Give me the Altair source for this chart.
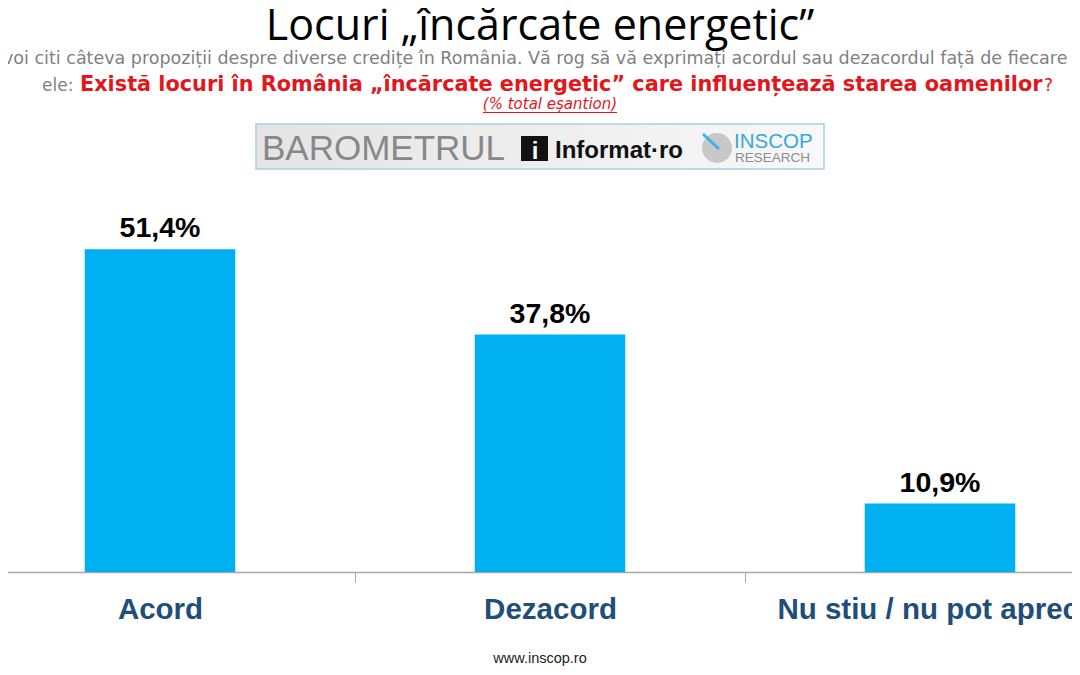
import altair as alt
import pandas as pd

# ---------------- data ----------------
categories = ["Acord", "Dezacord", "Nu stiu / nu pot aprecia"]
values = [51.4, 37.8, 10.9]
value_labels = ["51,4%", "37,8%", "10,9%"]

title_text = "Locuri „încărcate energetic”"
question_intro = ("voi citi câteva propoziții despre diverse credițe în România. "
                  "Vă rog să vă exprimați acordul sau dezacordul față de fiecare dintre")
question_lead = "ele:"
question_text = "Există locuri în România „încărcate energetic” care influențează starea oamenilor"
question_mark = "?"
sample_note = "(% total eșantion)"
footer_text = "www.inscop.ro"
logo_left = "BAROMETRUL"
logo_mid = "Informat·ro"
logo_right_top = "INSCOP"
logo_right_bottom = "RESEARCH"

df = pd.DataFrame({"cat": categories, "val": values, "label": value_labels})

W, H = 1064, 564
FONT = "Liberation Sans"
WIDE = "DejaVu Sans"
RED = "#E2161B"


def px(x):
    return x - 8


def py(y):
    return y - 8


xscale = alt.Scale(domain=categories, range=[-43, 1127], paddingInner=0.614, paddingOuter=0.307)
yscale = alt.Scale(domain=[0, 89.8])

x_enc = alt.X(
    "cat:N", sort=categories, scale=xscale,
    axis=alt.Axis(title=None, labelAngle=0, labelFontSize=29.5, labelFontWeight="bold",
                  labelColor="#1F4E79", labelFont=FONT, labelLimit=0, labelOverlap=False,
                  labelBaseline="alphabetic", labelPadding=36, tickOffset=195, labelOffset=-195,
                  tickSize=10, tickColor="#A6A6A6", tickWidth=1,
                  domainColor="#A6A6A6", domainWidth=1.3, grid=False),
)
y_enc = alt.Y("val:Q", scale=yscale, axis=None)

base = alt.Chart(df)
bars = base.mark_bar(color="#00B0F0").encode(x=x_enc, y=y_enc)
vals = base.mark_text(font=FONT, fontSize=28.5, fontWeight="bold", color="#000000",
                      baseline="alphabetic", dy=-12).encode(x=x_enc, y=y_enc, text="label:N")


def txt(s, x, y, font=FONT, **kw):
    return alt.Chart(pd.DataFrame({"t": [s]})).mark_text(font=font, baseline="alphabetic", **kw).encode(
        x=alt.value(px(x)), y=alt.value(py(y)), text="t:N")


one = pd.DataFrame({"a": [0]})

title = txt(title_text, 540, 40, font="Open Sans", fontSize=43, color="#000000", align="center")
line1 = txt(question_intro, 3, 64, font=WIDE, fontSize=17.5, color="#7F7F7F", align="left")
line2a = txt(question_lead, 42, 91, font=WIDE, fontSize=17, color="#7F7F7F", align="left")
line2b = txt(question_text, 80, 91, font=WIDE, fontSize=20.8, fontWeight="bold", color=RED, align="left")
line2c = txt(question_mark, 1044, 91, font=WIDE, fontSize=17, color=RED, align="left")
line3 = txt(sample_note, 550, 109, font=WIDE, fontSize=15, fontStyle="italic", color=RED, align="center")
underline = alt.Chart(one).mark_rule(color=RED, strokeWidth=1).encode(
    x=alt.value(px(483)), x2=alt.value(px(617)), y=alt.value(py(112.5)))

banner = alt.Chart(one).mark_rect(
    fill=alt.Gradient(gradient="linear",
                      stops=[alt.GradientStop(color="#E4E4E4", offset=0),
                             alt.GradientStop(color="#F8F8F8", offset=1)],
                      x1=0, x2=1, y1=0, y2=0),
    stroke="#A9D0E0", strokeWidth=1.5,
).encode(x=alt.value(px(256)), x2=alt.value(px(824)), y=alt.value(py(124)), y2=alt.value(py(169)))

logo1 = txt(logo_left, 262, 160, fontSize=35, color="#888888", align="left")
icon_box = alt.Chart(one).mark_rect(color="#111111").encode(
    x=alt.value(px(521)), x2=alt.value(px(548)), y=alt.value(py(136)), y2=alt.value(py(161)))
icon_i = txt("i", 535, 159, fontSize=24, fontWeight="bold", color="#FFFFFF", align="center")
logo2 = txt(logo_mid, 555, 158, fontSize=24, fontWeight="bold", color="#111111", align="left")
circle = alt.Chart(one).mark_point(filled=True, shape="circle", size=900, color="#C8C8C8", opacity=1).encode(
    x=alt.value(px(717)), y=alt.value(py(148)))
needle = alt.Chart(one).mark_rule(color="#3CB4E5", strokeWidth=3).encode(
    x=alt.value(px(703)), y=alt.value(py(134)), x2=alt.value(px(719)), y2=alt.value(py(149)))
logo3 = txt(logo_right_top, 734, 148, fontSize=20.5, color="#35A8DC", align="left")
logo4 = txt(logo_right_bottom, 735, 162, fontSize=13.5, color="#8C8C8C", align="left")

footer = txt(footer_text, 540, 663, fontSize=14.5, color="#222222", align="center")

chart = alt.layer(
    bars, vals, title, line1, line2a, line2b, line2c, line3, underline,
    banner, logo1, icon_box, icon_i, logo2, circle, needle, logo3, logo4, footer,
).properties(
    width=W, height=H,
    autosize=alt.AutoSizeParams(type="none"),
    padding={"left": 0, "top": 0, "right": 0, "bottom": 95},
).configure_view(stroke=None)

chart.save("out.html", embed_options={"renderer": "svg", "actions": False})
